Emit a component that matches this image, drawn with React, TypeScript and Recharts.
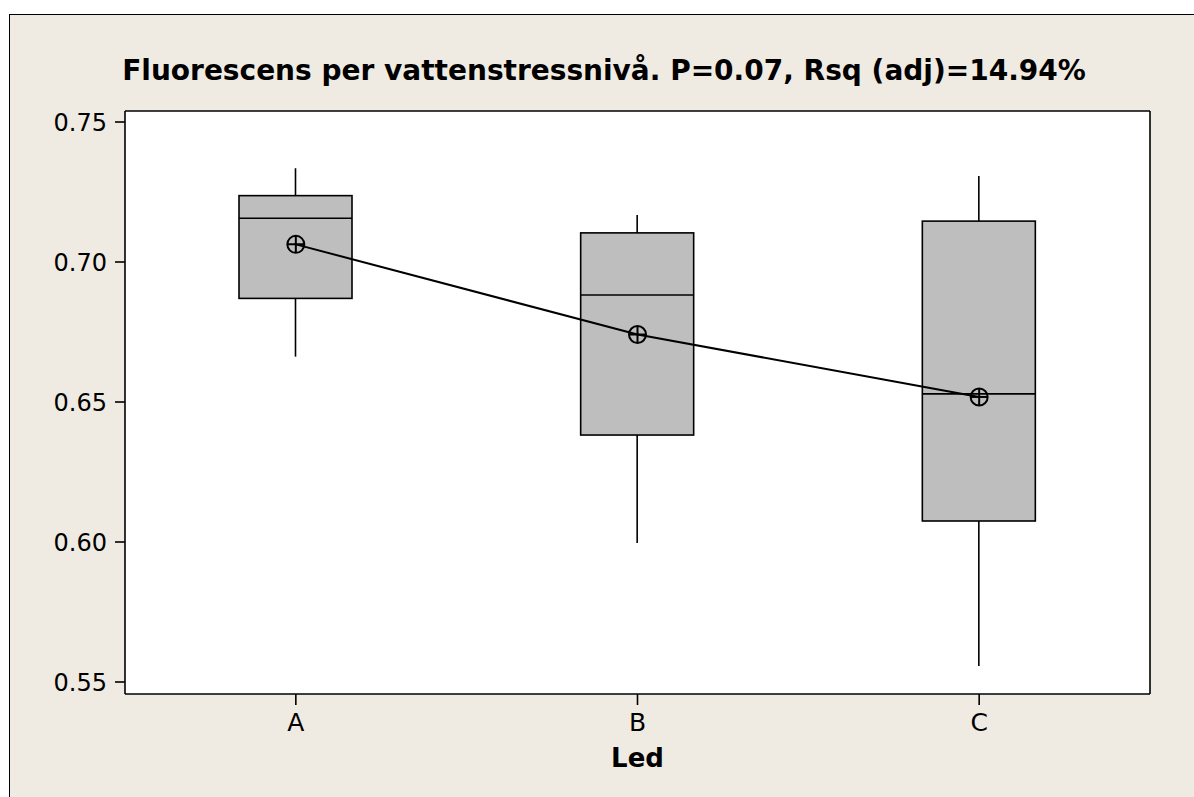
import React from "react";
import {
  ComposedChart,
  Bar,
  Line,
  XAxis,
  YAxis,
  CartesianGrid,
} from "recharts";

const groups = ["A", "B", "C"];
const whiskerLow = [0.6662, 0.5996, 0.5557];
const q1 = [0.687, 0.6382, 0.6075];
const median = [0.7156, 0.6882, 0.6529];
const q3 = [0.7237, 0.7104, 0.7146];
const whiskerHigh = [0.7335, 0.7168, 0.7307];
const means = [0.7063, 0.6741, 0.6518];
const yTicks = [0.55, 0.6, 0.65, 0.7, 0.75];

const data = groups.map((g, i) => ({
  led: g,
  range: [whiskerLow[i], whiskerHigh[i]],
  q1: q1[i],
  median: median[i],
  q3: q3[i],
  mean: means[i],
}));

const FONT = "Tahoma, 'DejaVu Sans', Verdana, sans-serif";
const DOMAIN: [number, number] = [0.54571, 0.75393];

function BoxShape(props: any) {
  const { x, y, width, height, payload } = props;
  const top = Math.min(y, y + height);
  const h = Math.abs(height);
  const [lo, hi] = payload.range;
  const px = h / (hi - lo);
  const yOf = (v: number) => top + (hi - v) * px;
  const cx = x + width / 2;
  return (
    <g>
      <line x1={cx} x2={cx} y1={yOf(hi)} y2={yOf(payload.q3)} stroke="#000" strokeWidth={1.6} />
      <line x1={cx} x2={cx} y1={yOf(payload.q1)} y2={yOf(lo)} stroke="#000" strokeWidth={1.6} />
      <rect
        x={x}
        y={yOf(payload.q3)}
        width={width}
        height={yOf(payload.q1) - yOf(payload.q3)}
        fill="#bebebe"
        stroke="#000"
        strokeWidth={1.6}
      />
      <line x1={x} x2={x + width} y1={yOf(payload.median)} y2={yOf(payload.median)} stroke="#000" strokeWidth={1.6} />
    </g>
  );
}

function MeanDot(props: any) {
  const { cx, cy } = props;
  const r = 8.5;
  return (
    <g>
      <circle cx={cx} cy={cy} r={r} fill="none" stroke="#000" strokeWidth={2} />
      <line x1={cx - r} x2={cx + r} y1={cy} y2={cy} stroke="#000" strokeWidth={2} />
      <line x1={cx} x2={cx} y1={cy - r} y2={cy + r} stroke="#000" strokeWidth={2} />
    </g>
  );
}

export default function App() {
  return (
    <div
      style={{
        position: "absolute",
        left: 0,
        top: 0,
        width: 1194,
        height: 797,
        background: "#fff",
        overflow: "hidden",
        fontFamily: FONT,
      }}
    >
      <div
        style={{
          position: "absolute",
          left: 9,
          top: 14,
          width: 1200,
          height: 800,
          background: "#efebe2",
          borderLeft: "1.5px solid #000",
          borderTop: "1.5px solid #000",
        }}
      />
      <div
        style={{
          position: "absolute",
          left: 0,
          width: 1208,
          top: 53,
          textAlign: "center",
          fontWeight: "bold",
          fontSize: 28,
          lineHeight: "36px",
          color: "#000",
          whiteSpace: "nowrap",
        }}
      >
        Fluorescens per vattenstressnivå. P=0.07, Rsq (adj)=14.94%
      </div>
      <div style={{ position: "absolute", left: 0, top: 0 }}>
        <ComposedChart
          width={1194}
          height={797}
          data={data}
          margin={{ top: 110, right: 43, bottom: 23, left: 0 }}
        >
          <CartesianGrid fill="#fff" horizontal={false} vertical={false} />
          <XAxis
            dataKey="led"
            type="category"
            axisLine={{ stroke: "#000", strokeWidth: 1.6 }}
            tickLine={{ stroke: "#000", strokeWidth: 1.6 }}
            tickSize={11}
            tickMargin={8}
            height={80}
            tick={{ fill: "#000", fontSize: 25, fontFamily: FONT }}
            label={{
              value: "Led",
              position: "insideBottom",
              offset: 7,
              fill: "#000",
              fontSize: 26,
              fontWeight: "bold",
              fontFamily: FONT,
            }}
          />
          <XAxis
            xAxisId="top"
            dataKey="led"
            orientation="top"
            axisLine={{ stroke: "#000", strokeWidth: 1.6 }}
            tick={false}
            tickLine={false}
            height={1}
          />
          <YAxis
            type="number"
            domain={DOMAIN}
            ticks={yTicks}
            allowDataOverflow
            width={125}
            axisLine={{ stroke: "#000", strokeWidth: 1.6 }}
            tickLine={{ stroke: "#000", strokeWidth: 1.6 }}
            tickSize={10}
            tickMargin={8}
            tickFormatter={(v: number) => v.toFixed(2)}
            tick={{ fill: "#000", fontSize: 24, fontFamily: FONT }}
          />
          <YAxis
            yAxisId="right"
            orientation="right"
            domain={DOMAIN}
            allowDataOverflow
            axisLine={{ stroke: "#000", strokeWidth: 1.6 }}
            tick={false}
            tickLine={false}
            width={1}
          />
          <Bar dataKey="range" barSize={113} shape={BoxShape} isAnimationActive={false} />
          <Line
            type="linear"
            dataKey="mean"
            stroke="#000"
            strokeWidth={2}
            dot={MeanDot}
            activeDot={false}
            isAnimationActive={false}
          />
        </ComposedChart>
      </div>
    </div>
  );
}
